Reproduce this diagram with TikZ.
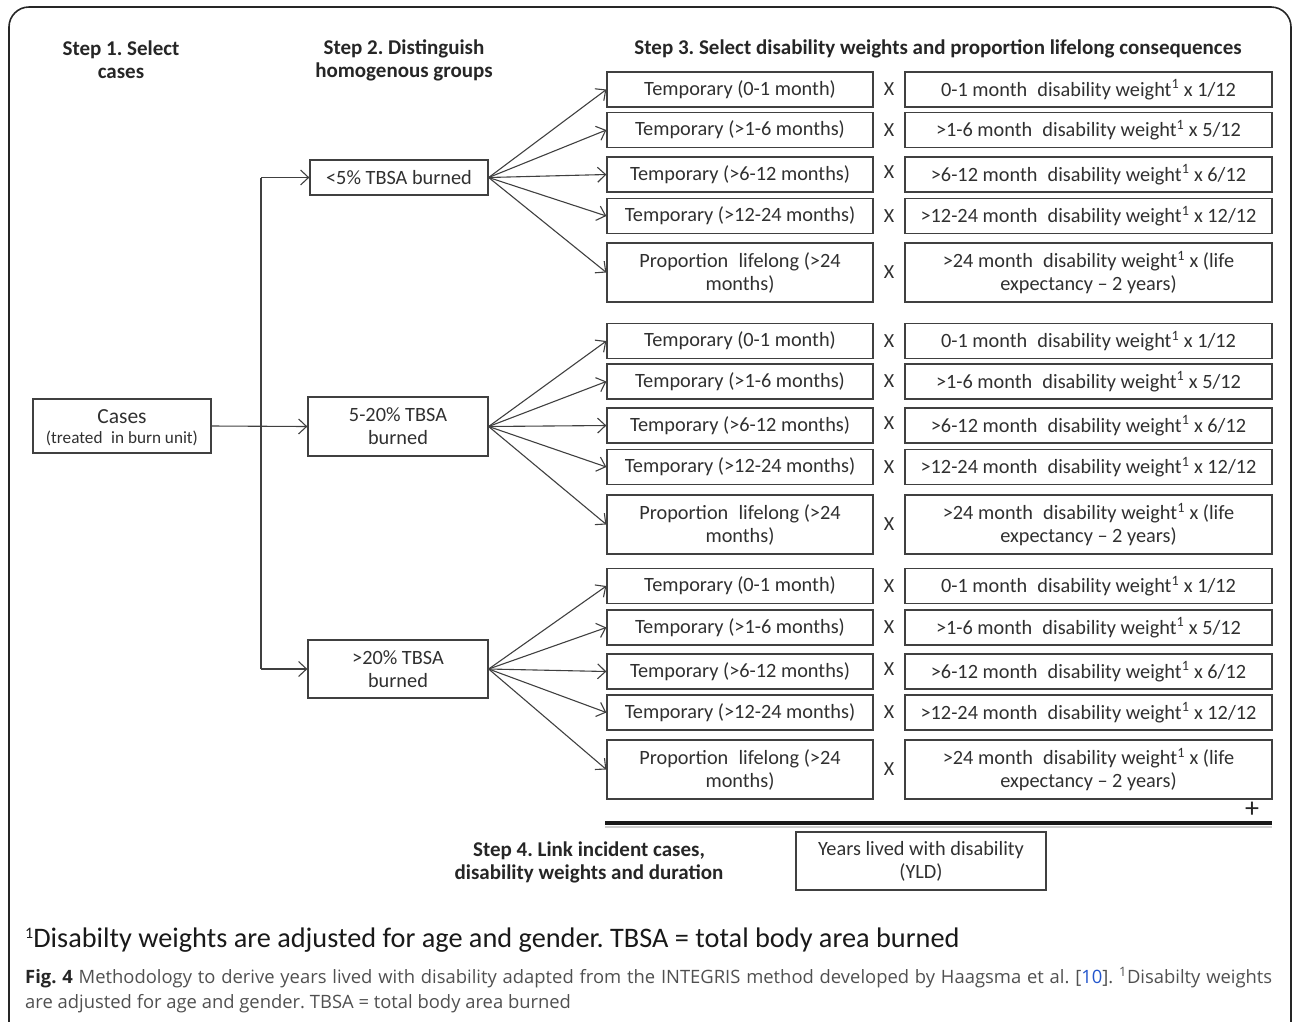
\documentclass[tikz,border=0pt]{standalone}
\usepackage{fontspec}
\setmainfont{Carlito}
\newfontfamily\capfont{Open Sans}
\usetikzlibrary{arrows.meta}
\definecolor{boxline}{HTML}{404040}
\definecolor{txt}{HTML}{303030}
\definecolor{capgray}{HTML}{505050}
\definecolor{reflink}{HTML}{2255CC}
\frenchspacing
\newcommand\mkrows[7]{%
 \node[lbox,sh] (#1a) at (740,#3) {Temporary (0-1 month)};
 \node[lbox,sh] (#1b) at (740,#4) {Temporary (>1-6 months)};
 \node[lbox,sh] (#1c) at (740,#5) {Temporary (>6-12 months)};
 \node[lbox,sh] (#1d) at (740,#6) {Temporary (>12-24 months)};
 \node[lbox,tall] (#1e) at (740,#7) {Proportion\enspace lifelong (>24\\months)};
 \node[rbox,sh] (#1A) at (1088.5,#3) {0-1 month\enspace disability weight\textsuperscript{1} x 1/12};
 \node[rbox,sh] (#1B) at (1088.5,#4) {>1-6 month\enspace disability weight\textsuperscript{1} x 5/12};
 \node[rbox,sh] (#1C) at (1088.5,#5) {>6-12 month\enspace disability weight\textsuperscript{1} x 6/12};
 \node[rbox,sh] (#1D) at (1088.5,#6) {>12-24 month\enspace disability weight\textsuperscript{1} x 12/12};
 \node[rbox,tall] (#1E) at (1088.5,#7) {>24 month\enspace disability weight\textsuperscript{1} x (life\\expectancy -- 2 years)};
 \node[xmark] (#1xa) at (889,#3) {X};
 \node[xmark] (#1xb) at (889,#4) {X};
 \node[xmark] (#1xc) at (889,#5-2) {X};
 \node[xmark] (#1xd) at (889,#6) {X};
 \node[xmark] (#1xe) at (889,#7) {X};
 \foreach \r in {a,b,c,d,e} \draw[arr] (#2.east) -- (#1\r.west);
}
\begin{document}
\begin{tikzpicture}[x=1pt,y=-1pt,
 box/.style={draw=boxline, line width=1.3pt, text=txt, align=center, inner sep=0pt, font=\fontsize{20.3}{23}\selectfont},
 lbox/.style={box, minimum width=266pt},
 rbox/.style={box, minimum width=367pt},
 sh/.style={minimum height=35pt},
 tall/.style={minimum height=59pt},
 arr/.style={draw=boxline, line width=1.1pt, -{Straight Barb[length=8pt,width=15pt]}},
 head/.style={font=\bfseries\fontsize{21}{23}\selectfont, text=black!85, align=center},
 xmark/.style={text=txt, font=\fontsize{20}{23}\selectfont, inner sep=0pt}
]
\useasboundingbox (0,0) rectangle (1292,1021);
\begin{scope}
\clip (0,0) rectangle (1292,1021);
\draw[line width=1.6pt, black!85, rounded corners=20pt] (9,1040) -- (9,7) -- (1291,7) -- (1291,1040);
\end{scope}

% headings
\node[head] (h1) at (121,60) {Step 1. Select\\cases};
\node[head] (h2) at (404,60) {Step 2. Distinguish\\homogenous groups};
\node[head] (h3) at (938,48.5) {Step 3. Select disability weights and proportion lifelong consequences};

% cases and groups
\node[box, minimum width=178pt, minimum height=54pt] (cases) at (122,426) {};
\node[font=\fontsize{21.5}{23}\selectfont, text=txt, inner sep=0pt] (casesA) at (122,417) {Cases};
\node[font=\fontsize{17.2}{19}\selectfont, text=txt, inner sep=0pt] (casesB) at (122,438) {(treated\enspace in burn unit)};
\node[box, minimum width=178pt, minimum height=35pt] (g1) at (399,177.5) {<5\% TBSA burned};
\node[box, minimum width=180pt, minimum height=59pt] (g2) at (398,426.5) {5-20\% TBSA\\burned};
\node[box, minimum width=180pt, minimum height=58pt] (g3) at (398,669) {>20\% TBSA\\burned};

\coordinate (bus1) at (261,177.5);
\coordinate (bus3) at (261,669);
\draw[draw=boxline, line width=1.1pt] (bus1) -- (bus3);
\draw[arr] (cases.east) -- (g2.west);
\draw[arr] (bus1) -- (g1.west);
\draw[arr] (bus3) -- (g3.west);

\mkrows{p}{g1}{89.5}{130}{174.5}{216}{272.5}
\mkrows{q}{g2}{341}{381.5}{425.5}{467}{524.5}
\mkrows{s}{g3}{586}{627.5}{671.5}{712.5}{769.5}

% sum line
\coordinate (sumL) at (605,823);
\coordinate (sumR) at (1272,823);
\draw[black!20, line width=2pt] ([yshift=-4pt]sumL) -- ([yshift=-4pt]sumR);
\draw[black!90, line width=3.5pt] (sumL) -- (sumR);
\node[font=\fontsize{28}{30}\selectfont, text=black!85, inner sep=0pt] (plus) at (1252,810) {+};

% step 4
\node[head] (h4) at (589,862) {Step 4. Link incident cases,\\disability weights and duration};
\node[box, minimum width=250pt, minimum height=58pt] (yld) at (921,861) {Years lived with disability\\(YLD)};

% footnote and caption
\node[anchor=base west, inner sep=0pt, text=black!90, font=\fontsize{28.3}{30}\selectfont] (fn) at (25,947) {\raisebox{9pt}{\fontsize{16}{16}\selectfont 1}Disabilty weights are adjusted for age and gender. TBSA = total body area burned};
\node[anchor=base west, inner sep=0pt, text=capgray, font=\capfont\fontsize{18.4}{20}\selectfont] (cap1) at (25,983) {\makebox[1247pt][s]{{\bfseries\color{black!85}Fig.~4} Methodology to derive years lived with disability adapted from the INTEGRIS method developed by Haagsma et~al.~[{\color{reflink}10}]. \textsuperscript{1}Disabilty weights}};
\node[anchor=base west, inner sep=0pt, text=capgray, font=\capfont\fontsize{18.4}{20}\selectfont] (cap2) at (25,1008) {are adjusted for age and gender. TBSA = total body area burned};
\end{tikzpicture}
\end{document}
